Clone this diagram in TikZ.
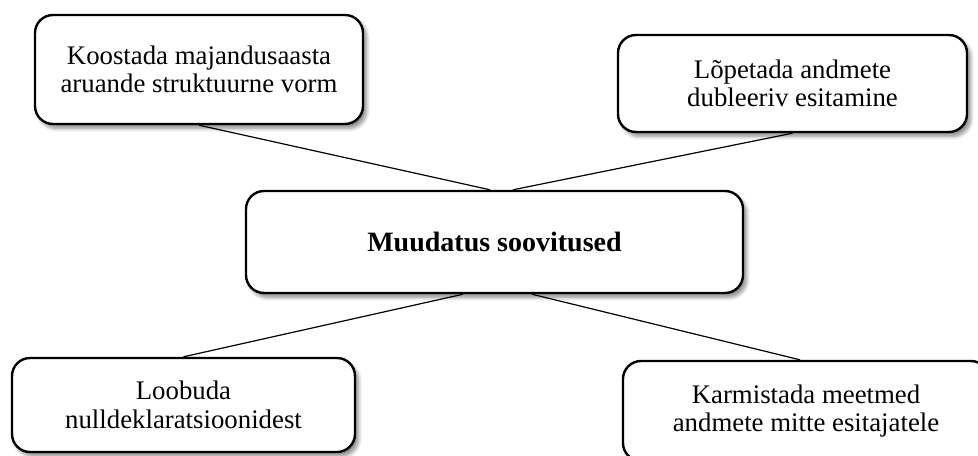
\documentclass[tikz,border=0pt]{standalone}
\usepackage{fontspec}
\setmainfont{Liberation Serif}
\usetikzlibrary{shadows.blur, positioning}
\begin{document}
\begin{tikzpicture}[x=0.5pt, y=-0.5pt,
    kast/.style={draw, line width=1.2pt, rounded corners=9pt, fill=white, align=center, inner sep=0pt,
      font=\fontsize{13.4}{14.2}\selectfont,
      blur shadow={shadow xshift=1.8pt, shadow yshift=-2.2pt, shadow blur steps=6, shadow opacity=45}},
    joon/.style={line width=0.6pt}]
        \useasboundingbox (0,0) rectangle (978,455);
        \node[kast, minimum width=164pt, minimum height=54.5pt] (koost) at (199,69.5) {Koostada majandusaasta\\aruande struktuurne vorm};
        \node[kast, minimum width=174.5pt, minimum height=48.5pt] (lopet) at (792.5,83.5) {Lõpetada andmete\\dubleeriv esitamine};
        \node[kast, minimum width=248.5pt, minimum height=51pt, font=\fontsize{14}{16}\selectfont\bfseries] (muud) at (494.5,242) {Muudatus soovitused};
        \node[kast, minimum width=171.5pt, minimum height=47pt] (loob) at (183.5,405) {Loobuda\\nulldeklaratsioonidest};
        \node[kast, minimum width=183pt, minimum height=50pt] (karm) at (806,411) {Karmistada meetmed\\andmete mitte esitajatele};
        \draw[joon] (koost.south) -- ([xshift=-2.2pt]muud.north);
        \draw[joon] (lopet.south) -- ([xshift=9.2pt]muud.north);
        \draw[joon] (loob.north) -- ([xshift=-15.7pt]muud.south);
        \draw[joon] ([xshift=-3pt]karm.north) -- ([xshift=18.7pt]muud.south);
\end{tikzpicture}
\end{document}
